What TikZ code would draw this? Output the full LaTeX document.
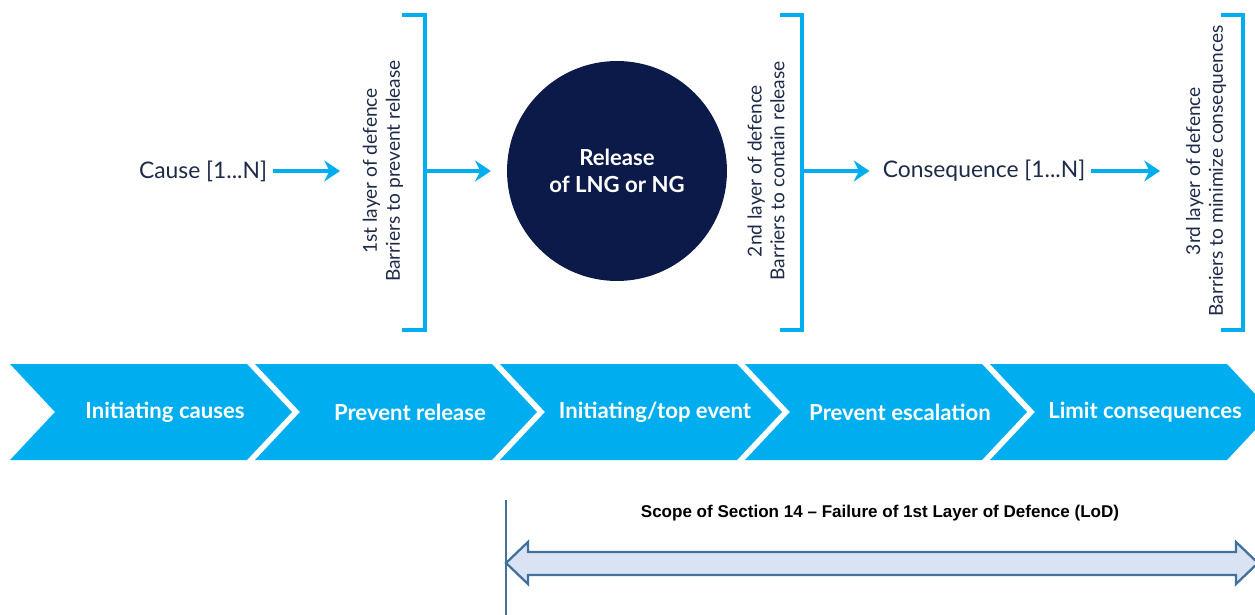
\documentclass[tikz,border=0pt]{standalone}
\usepackage{fontspec}
\setmainfont{Lato}
\newfontfamily\arialfont{Liberation Sans}
\usetikzlibrary{arrows.meta, positioning, calc}
\definecolor{chevblue}{RGB}{0,174,239}
\definecolor{navy}{RGB}{12,26,74}
\definecolor{inkgrey}{RGB}{30,42,72}
\definecolor{scopeline}{RGB}{65,113,156}
\definecolor{scopefill}{RGB}{218,227,243}

\begin{document}
\begin{tikzpicture}[
  x=0.02cm, y=-0.02cm,
  chev/.style={fill=chevblue},
  chevtext/.style={text=white, font=\fontsize{12.6}{14}\selectfont\bfseries},
  lbl/.style={text=inkgrey, font=\fontsize{13}{15}\selectfont},
  rot/.style={text=inkgrey, rotate=90, align=center, font=\fontsize{10.9}{13}\selectfont},
  brk/.style={draw=chevblue, line width=2.3pt},
  arr/.style={-{Stealth[length=9pt, width=12pt, inset=3pt]}, draw=chevblue, line width=2.2pt},
]
\useasboundingbox (0,0) rectangle (1255,615);

% chevron band
\foreach \i/\txt in {0/{Initiating causes}, 1/{Prevent release}, 2/{Initiating/top event}, 3/{Prevent escalation}, 4/{Limit consequences}} {
  \pgfmathsetmacro\xa{10+245*\i}
  \fill[chev] (\xa,364) -- ++(237,0) -- ++(45,48) -- ++(-45,48) -- ++(-237,0) -- ++(45,-48) -- cycle;
  \node[chevtext] (ph\i) at (\xa+155,412) {\txt};
}

% top row
\node[lbl] (cause) at (203,171) {Cause [1...N]};
\coordinate (causeend) at (340,171);
\node[rot] (lod1) at (383,171) {1st layer of defence\\Barriers to prevent release};
\draw[brk] (402,15) -| (425,330) -- (402,330);
\coordinate (b1) at (425,171);

\node[circle, fill=navy, minimum size=4.4cm, text=white, align=center,
  font=\fontsize{12.6}{15.5}\selectfont\bfseries] (release) at (617,171) {Release\\of LNG or NG};

\node[rot] (lod2) at (766,171) {2nd layer of defence\\Barriers to contain release};
\draw[brk] (780,15) -| (802,330) -- (780,330);
\coordinate (b2) at (802,171);

\node[lbl] (conseq) at (984,171) {Consequence [1...N]};
\coordinate (conseqend) at (1160,171);
\node[rot] (lod3) at (1206,171) {3rd layer of defence\\Barriers to minimize consequences};
\draw[brk] (1221,15) -| (1243,330) -- (1221,330);

\draw[arr] (cause.east) -- (causeend);
\draw[arr, shorten >=9pt] (b1) -- (release.west);
\draw[arr] (b2) -- ([xshift=-4pt]conseq.west);
\draw[arr] (conseq.east) -- (conseqend);

% scope of section
\draw[scopeline, line width=0.9pt] (506,500) -- (506,615);
\draw[scopeline, fill=scopefill, line width=1.3pt, line join=miter]
  (506,563) -- (528,542) -- (528,552) -- (1236,552) -- (1236,542) -- (1258,563)
  -- (1236,584) -- (1236,575) -- (528,575) -- (528,584) -- cycle;
\node[font=\arialfont\fontsize{9.7}{11}\selectfont\bfseries] (scope) at (880,513)
  {Scope of Section 14 – Failure of 1st Layer of Defence (LoD)};
\end{tikzpicture}
\end{document}
